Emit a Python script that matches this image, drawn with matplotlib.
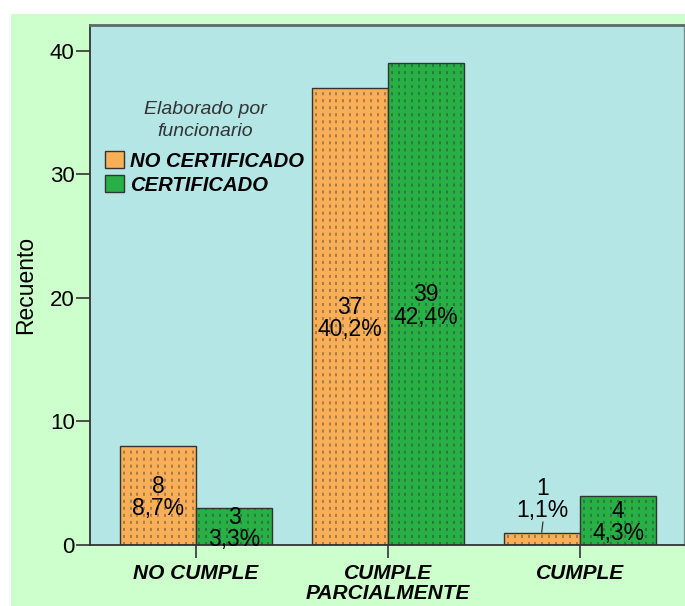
import matplotlib
matplotlib.use("Agg")
import matplotlib.pyplot as plt
import numpy as np
from matplotlib.patches import Rectangle

categories = ["NO CUMPLE", "CUMPLE\nPARCIALMENTE", "CUMPLE"]
series_names = ["NO CERTIFICADO", "CERTIFICADO"]
no_cert = [8, 37, 1]
cert = [3, 39, 4]
no_cert_pct = ["8,7%", "40,2%", "1,1%"]
cert_pct = ["3,3%", "42,4%", "4,3%"]
yticks = [0, 10, 20, 30, 40]
legend_title = "Elaborado por\nfuncionario"

ORANGE = "#F9AF58"
GREEN = "#28B046"
PLOT_BG = "#B4E6E6"
FIG_BG = "#CCFFCC"
FONT = "Liberation Sans"

fig = plt.figure(figsize=(6.85, 6.06), dpi=100)
fig.patch.set_facecolor("white")
fig.add_artist(Rectangle((11 / 685, 0), 1 - 11 / 685, (606 - 14) / 606,
                         transform=fig.transFigure, facecolor=FIG_BG,
                         edgecolor="none", zorder=-10))

ax = fig.add_axes([90 / 685, 61 / 606, 594 / 685, 520 / 606])
ax.set_facecolor(PLOT_BG)

x = np.arange(len(categories))
w = 0.395
bars1 = ax.bar(x - w / 2, no_cert, w, color=ORANGE, edgecolor="#333333",
               linewidth=1.0, label=series_names[0], zorder=2)
bars2 = ax.bar(x + w / 2, cert, w, color=GREEN, edgecolor="#333333",
               linewidth=1.0, label=series_names[1], zorder=2)

# dotted texture inside bars
for bars in (bars1, bars2):
    for p in bars:
        x0, bw, h = p.get_x(), p.get_width(), p.get_height()
        step = bw / 11
        xs = np.arange(x0 + step / 2, x0 + bw, step)
        lc = ax.vlines(xs, 0, h, colors="#2a2a2a", linewidths=1.1,
                       linestyles=(0, (2, 2.6)), alpha=0.5, zorder=3)
        lc.set_clip_path(p)

# value labels
def put_labels(bars, vals, pcts):
    for p, v, pc in zip(bars, vals, pcts):
        cx = p.get_x() + p.get_width() / 2
        if v >= 3:
            ax.text(cx, v / 2 - 0.15, f"{v}\n{pc}", ha="center", va="center",
                    fontsize=16.5, family=FONT, linespacing=0.95, zorder=5)
        else:
            ax.text(cx, 3.65, f"{v}\n{pc}", ha="center", va="center",
                    fontsize=16.5, family=FONT, linespacing=0.95, zorder=5)
            ax.plot([cx + 0.003, cx - 0.003], [1.85, 1.05], color="#333333",
                    lw=0.9, zorder=5)

put_labels(bars1, no_cert, no_cert_pct)
put_labels(bars2, cert, cert_pct)

ax.set_xlim(-0.552, 2.54)
ax.set_ylim(0, 42.1)
ax.set_yticks(yticks)
ax.set_yticklabels([str(t) for t in yticks], family=FONT, fontsize=16)
ax.set_xticks(x)
ax.set_xticklabels(categories, family=FONT, fontsize=15, fontweight="bold",
                   fontstyle="italic")
for t in ax.get_xticklabels():
    t.set_linespacing(1.1)
ax.tick_params(axis="y", length=10, width=1.2, color="#333333", pad=1)
ax.tick_params(axis="x", length=9.5, width=1.2, color="#333333", pad=4)

for s in ["left", "bottom"]:
    ax.spines[s].set_color("#333333")
    ax.spines[s].set_linewidth(1.3)
ax.spines["top"].set_color("#5A6A6A")
ax.spines["top"].set_linewidth(2.0)
ax.spines["right"].set_color("#7A9090")
ax.spines["right"].set_linewidth(1.0)

ax.set_ylabel("Recuento", family=FONT, fontsize=16.5)
ax.yaxis.set_label_coords(-0.089, 0.5)

# legend title as separate text, entries as legend
ax.text(0.1936, 0.816, legend_title, transform=ax.transAxes, ha="center",
        va="center", family=FONT, style="italic", fontsize=14,
        color="#333333", linespacing=1.35, multialignment="center")
leg = ax.legend(loc="upper left", bbox_to_anchor=(0.0253, 0.757),
                frameon=False, borderpad=0, borderaxespad=0,
                handlelength=0.92, handleheight=0.92, handletextpad=0.3,
                labelspacing=0.22,
                prop=dict(family=FONT, weight="bold", style="italic", size=14.6))

fig.savefig("out.png", dpi=100, facecolor=fig.get_facecolor())
